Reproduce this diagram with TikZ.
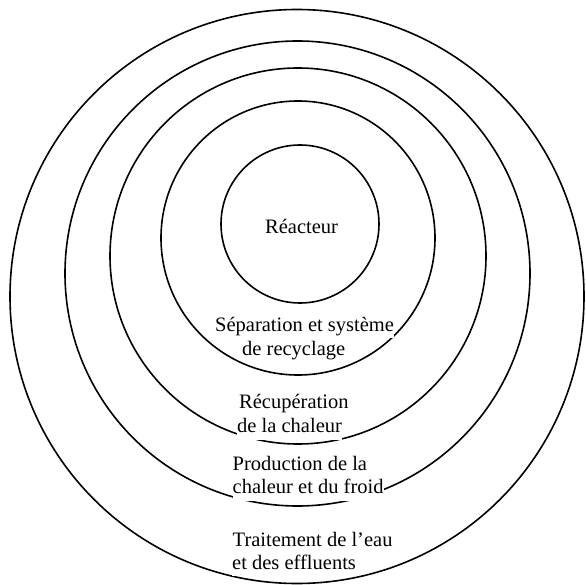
\documentclass[tikz,border=0pt]{standalone}
\usepackage{fontspec}
\setmainfont{Liberation Serif}
\begin{document}
\begin{tikzpicture}[x=1pt,y=-1pt,
  ring/.style={draw=black,line width=1.6pt,circle,inner sep=0pt,outer sep=0pt},
  lbl/.style={anchor=base west,fill=white,inner sep=0pt,font=\fontsize{20.5}{24}\selectfont}]
\useasboundingbox[fill=white] (0,0) rectangle (586,585);
% rings (centre, diameter)
\node[ring,minimum size=574pt] (c5) at (297,296.5) {};
\node[ring,minimum size=465pt] (c4) at (297.5,273.5) {};
\node[ring,minimum size=376pt] (c3) at (298,256) {};
\node[ring,minimum size=274pt] (c2) at (298,238) {};
\node[ring,minimum size=158pt] (c1) at (300,224) {};
% labels
\node[lbl] (reac) at (265,234) {\strut Réacteur};
\node[lbl] (sepa) at (215,331) {\strut Séparation et système};
\node[lbl] (recy) at (242,355) {\strut de recyclage};
\node[lbl] (recu) at (239,408) {\strut Récupération};
\node[lbl] (chal) at (237,432.5) {\strut de la chaleur};
\node[lbl] (prod) at (232.5,470.5) {\strut Production de la};
\node[lbl] (froi) at (232.5,493.5) {\strut chaleur et du froid};
\node[lbl] (trai) at (232.5,546) {\strut Traitement de l’eau};
\node[lbl] (effl) at (232,569) {\strut et des effluents};
\end{tikzpicture}
\end{document}
